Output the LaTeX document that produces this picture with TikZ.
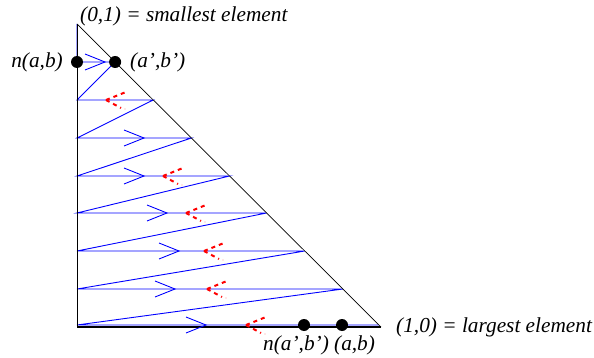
\documentclass[tikz,border=0pt]{standalone}
\usepackage{fontspec}
\setmainfont{Liberation Serif}
\begin{document}
\begin{tikzpicture}[x=1pt,y=-1pt,
  edge/.style={black,line width=0.7pt},
  zig/.style={blue,line width=0.9pt},
  vhead/.style={blue,line width=0.9pt},
  redmark/.style={red,line width=2pt,dash pattern=on 4pt off 4pt},
  dot/.style={circle,fill=black,inner sep=0pt,minimum size=12pt},
  lab/.style={font=\fontsize{21.3}{24}\selectfont\itshape,inner sep=0pt}]
\useasboundingbox (0,0) rectangle (594,358);
% triangle corners
\coordinate (top) at (77,24);
\coordinate (bl) at (77,327);
\coordinate (br) at (381,327);
% rows
\foreach \i/\y in {1/62,2/100,3/138,4/176,5/213,6/251,7/289,8/325}{
  \coordinate (L\i) at (77,\y);
  \pgfmathsetmacro{\rx}{77+(\y-24)*1.0033}
  \coordinate (R\i) at (\rx,\y);
}
% zigzag path
\draw[zig] (top) -- (L1) -- (R1) -- (L2) -- (R2) -- (L3) -- (R3) -- (L4) -- (R4)
  -- (L5) -- (R5) -- (L6) -- (R6) -- (L7) -- (R7) -- (L8) -- (R8);
% triangle
\draw[edge] (top) -- (bl);
\draw[edge,line width=1.1pt] (bl) -- (br);
\draw[edge] (top) -- (br);
% open arrowheads
\foreach \x/\y in {105/62,144/138,144/176,167/213,179/251,175/289,206/325}{
  \coordinate (t) at (\x,\y);
  \draw[vhead] ([shift={(-20,-8)}]t) -- (t) -- ([shift={(-20,8)}]t);
}
% red dashed marks
\foreach \x/\y in {106/100,163/176,186/213,204/251,207/289,246/325}{
  \coordinate (m) at (\x,\y);
  \draw[redmark] (m) -- ([shift={(20,-8)}]m);
  \draw[redmark] (m) -- ([shift={(15,8)}]m);
  \fill[red!40] ([shift={(19,9)}]m) circle (0.6pt);
}
% dots
\node[dot] (nab) at (L1) {};
\node[dot] (apbp) at (R1) {};
\node[dot] (napbp) at (304,325) {};
\node[dot] (ab) at (342,325) {};
% labels
\node[lab,anchor=base west] (smallest) at (80,21.5) {(0,1) = smallest element};
\node[lab,anchor=base east] (lnab) at (63,68) {n(a,b)};
\node[lab,anchor=base west] (lapbp) at (130,68) {(a',b')};
\node[lab,anchor=base west] (largest) at (396,332) {(1,0) = largest element};
\node[lab,anchor=base west] (lbottom) at (263,350) {n(a',b') (a,b)};
\end{tikzpicture}
\end{document}
